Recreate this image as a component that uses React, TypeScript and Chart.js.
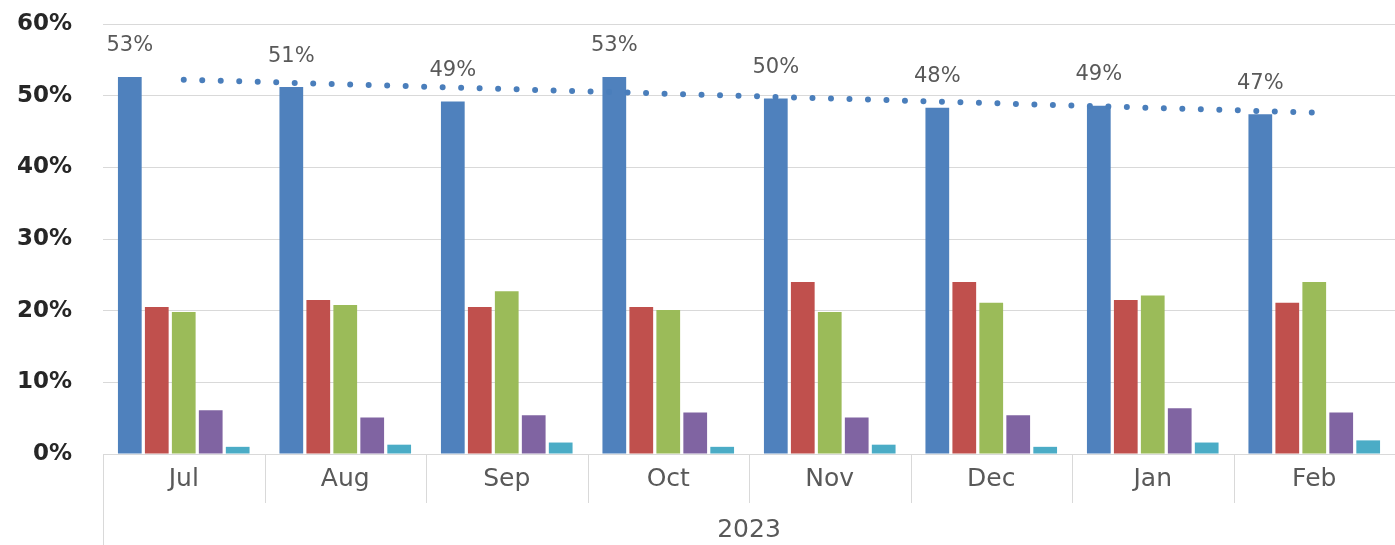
import React, { useEffect, useRef } from "react";
import { Chart, registerables } from "chart.js";

Chart.register(...registerables);

// Monthly shares (percent) per group
const months = ["Jul", "Aug", "Sep", "Oct", "Nov", "Dec", "Jan", "Feb"];
const yearLabel = "2023";
const seriesBlue = [52.6, 51.2, 49.2, 52.6, 49.6, 48.3, 48.6, 47.4];
const seriesRed = [20.5, 21.5, 20.5, 20.5, 24.0, 24.0, 21.5, 21.1];
const seriesGreen = [19.8, 20.8, 22.7, 20.1, 19.8, 21.1, 22.1, 24.0];
const seriesPurple = [6.1, 5.1, 5.4, 5.8, 5.1, 5.4, 6.4, 5.8];
const seriesCyan = [1.0, 1.3, 1.6, 1.0, 1.3, 1.0, 1.6, 1.9];

const COLORS = {
  blue: "#4F81BD",
  red: "#C0504D",
  green: "#9BBB59",
  purple: "#8064A2",
  cyan: "#4BACC6",
  trend: "#4A7EBB",
};

const FONT = "'DejaVu Sans', sans-serif";

// Least-squares linear trend of a series, evaluated at every category index
function linearTrend(values: number[]): number[] {
  const n = values.length;
  const mx = (n - 1) / 2;
  const my = values.reduce((a, b) => a + b, 0) / n;
  let sxy = 0;
  let sxx = 0;
  values.forEach((v, i) => {
    sxy += (i - mx) * (v - my);
    sxx += (i - mx) * (i - mx);
  });
  const slope = sxy / sxx;
  return values.map((_, i) => my + slope * (i - mx));
}

// Percent labels above the first bar series
const valueLabels = {
  id: "valueLabels",
  afterDatasetsDraw(chart: any) {
    const { ctx } = chart;
    const meta = chart.getDatasetMeta(0);
    ctx.save();
    ctx.font = `21px ${FONT}`;
    ctx.fillStyle = "#595959";
    ctx.textAlign = "center";
    ctx.textBaseline = "middle";
    meta.data.forEach((bar: any, i: number) => {
      const v = chart.data.datasets[0].data[i] as number;
      ctx.fillText(`${Math.round(v)}%`, bar.x, bar.y - 31);
    });
    ctx.restore();
  },
};

// Category separators and the year row under the month labels
const categoryFrame = {
  id: "categoryFrame",
  afterDraw(chart: any) {
    const { ctx, chartArea } = chart;
    const x = chart.scales.x;
    const n = chart.data.labels.length;
    const step = (chartArea.right - chartArea.left) / n;
    const base = chartArea.bottom;
    ctx.save();
    ctx.strokeStyle = "#D9D9D9";
    ctx.lineWidth = 1;
    ctx.beginPath();
    ctx.moveTo(Math.round(chartArea.left) + 0.5, base);
    ctx.lineTo(Math.round(chartArea.left) + 0.5, chart.height);
    for (let i = 1; i <= n; i++) {
      const px = Math.round(x.getPixelForValue(i - 1) + step / 2) + 0.5;
      ctx.moveTo(px, base);
      ctx.lineTo(px, base + 49);
    }
    ctx.stroke();
    ctx.font = `25px ${FONT}`;
    ctx.fillStyle = "#595959";
    ctx.textAlign = "center";
    ctx.textBaseline = "middle";
    ctx.fillText(yearLabel, (chartArea.left + chartArea.right) / 2, base + 76);
    ctx.restore();
  },
};

export default function App() {
  const canvasRef = useRef<HTMLCanvasElement | null>(null);

  useEffect(() => {
    if (!canvasRef.current) return;
    const trend = linearTrend(seriesBlue);
    const bar = (label: string, data: number[], color: string) => ({
      type: "bar" as const,
      label,
      data,
      backgroundColor: color,
      borderWidth: 0,
      categoryPercentage: 0.835,
      barPercentage: 0.88,
      order: 1,
    });
    const chart = new Chart(canvasRef.current, {
      type: "bar",
      data: {
        labels: months,
        datasets: [
          bar("Group A", seriesBlue, COLORS.blue),
          bar("Group B", seriesRed, COLORS.red),
          bar("Group C", seriesGreen, COLORS.green),
          bar("Group D", seriesPurple, COLORS.purple),
          bar("Group E", seriesCyan, COLORS.cyan),
          {
            type: "line" as const,
            label: "Trend",
            data: trend,
            borderColor: COLORS.trend,
            borderWidth: 6,
            borderDash: [0, 18.5],
            borderCapStyle: "round",
            pointRadius: 0,
            fill: false,
            tension: 0,
            order: 0,
          } as any,
        ],
      },
      options: {
        responsive: false,
        animation: false,
        layout: { padding: { top: 24, left: 0, right: 0, bottom: 0 } },
        plugins: {
          legend: { display: false },
          tooltip: { enabled: false },
        },
        scales: {
          x: {
            grid: { display: false, drawTicks: false },
            border: { display: false },
            ticks: {
              font: { family: FONT, size: 25 },
              color: "#595959",
              padding: 10,
              maxRotation: 0,
            },
            afterFit(scale: any) {
              scale.height = 91;
              scale.paddingLeft = 0;
              scale.paddingRight = 0;
            },
          },
          y: {
            min: 0,
            max: 60,
            grid: { color: "#D9D9D9", drawTicks: false },
            border: { display: false },
            ticks: {
              stepSize: 10,
              padding: 31,
              color: "#262626",
              font: { family: FONT, size: 23, weight: "bold" },
              callback: (v: any) => `${v}%`,
            },
            afterFit(scale: any) {
              scale.width = 103;
              // tick padding is horizontal here; keep it out of the vertical insets
              scale.paddingTop = 0;
              scale.paddingBottom = 0;
            },
          },
        },
      },
      plugins: [valueLabels, categoryFrame],
    });
    return () => chart.destroy();
  }, []);

  return (
    <div style={{ position: "fixed", left: 0, top: 0, width: 1395, height: 545, background: "#fff" }}>
      <canvas ref={canvasRef} width={1395} height={545} style={{ display: "block" }} />
    </div>
  );
}
